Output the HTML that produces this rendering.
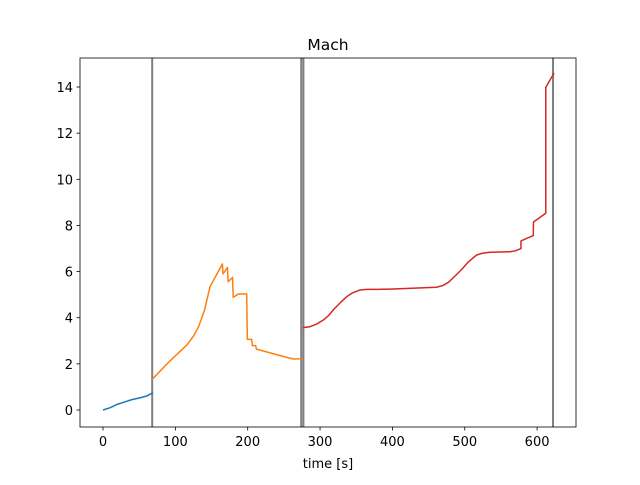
<!DOCTYPE html>
<html><head><meta charset="utf-8"><style>
body{margin:0;background:#fff;font-family:"Liberation Sans","DejaVu Sans",sans-serif}
svg text{font-family:"DejaVu Sans","Liberation Sans",sans-serif;font-size:13px;fill:#000}
</style></head><body>
<svg id="c" width="640" height="480"></svg>
<script>
const blueT=[0,10,20,30,40,50,60,69];
const blueV=[0,0.1,0.25,0.35,0.45,0.52,0.6,0.75];
const orangeT=[68,90,116,125,132,140,148,165,166,172,173,179,180,187,198.6,199.5,205.5,206.5,211,212,254,263,275];
const orangeV=[1.33,2.05,2.82,3.2,3.6,4.3,5.35,6.33,5.9,6.18,5.56,5.75,4.88,5.03,5.03,3.06,3.06,2.79,2.79,2.64,2.28,2.21,2.22];
const redT=[276,286,295,304.5,312,320,328,336.8,345,355,365,380,397,461,470,478,487,496,505,516.5,525,535,550,562.5,570,577.7,577.7,594.7,595,612,612,623.4];
const redV=[3.57,3.61,3.72,3.9,4.1,4.4,4.65,4.91,5.08,5.2,5.23,5.23,5.24,5.32,5.4,5.55,5.82,6.1,6.42,6.72,6.8,6.84,6.85,6.86,6.9,7.0,7.33,7.56,8.15,8.53,13.99,14.6];
const vlines=[68,274,277,622];
const xTicks=[0,100,200,300,400,500,600];
const yTicks=[0,2,4,6,8,10,12,14];
const X=t=>103+t*0.7235, Y=v=>410-v*23.07;
const svg=document.getElementById('c');const NS='http://www.w3.org/2000/svg';
function mk(tag,a,p){const e=document.createElementNS(NS,tag);for(const k in a)e.setAttribute(k,a[k]);(p||svg).appendChild(e);return e;}
const ax=mk('rect',{x:80,y:58,width:496,height:369,fill:'none',stroke:'#000','stroke-width':0.8});


vlines.forEach(t=>{const l=mk('line',{x1:X(t),x2:X(t),y1:58,y2:427,stroke:'#000','stroke-opacity':0.5,'stroke-width':2});

});
function series(T,V,col,name){const p=mk('polyline',{points:T.map((t,i)=>X(t)+','+Y(V[i])).join(' '),fill:'none',stroke:col,'stroke-width':1.5,'stroke-linejoin':'round'});

}
series(blueT,blueV,'#1f77b4','series-phase-1');
series(orangeT,orangeV,'#ff7f0e','series-phase-2');
series(redT,redV,'#d62728','series-phase-3');
xTicks.forEach(t=>{mk('line',{x1:X(t),x2:X(t),y1:427,y2:430.5,stroke:'#000','stroke-width':0.8});
const tx=mk('text',{x:X(t),y:446,'text-anchor':'middle'});tx.textContent=t;

});
yTicks.forEach(v=>{mk('line',{x1:76.5,x2:80,y1:Y(v),y2:Y(v),stroke:'#000','stroke-width':0.8});
const tx=mk('text',{x:73,y:Y(v)+5,'text-anchor':'end'});tx.textContent=v;

});
const xl=mk('text',{x:328,y:468,'text-anchor':'middle'});xl.textContent='time [s]';


const tl=mk('text',{x:328,y:50,'text-anchor':'middle',style:'font-size:15.5px'});tl.textContent='Mach';


</script>
</body></html>
